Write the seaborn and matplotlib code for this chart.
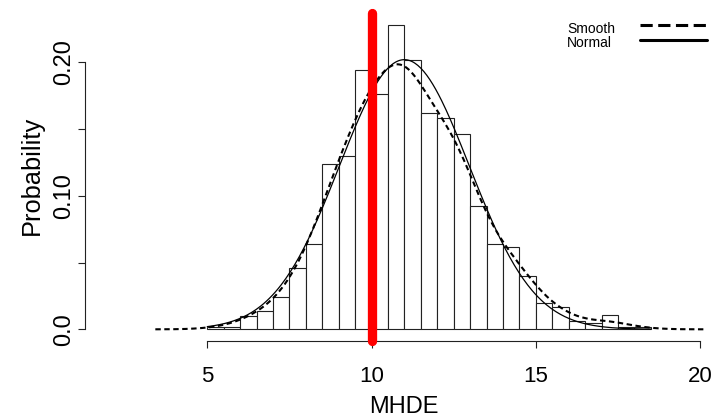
import numpy as np
import pandas as pd
import matplotlib
matplotlib.use("Agg")
import matplotlib.pyplot as plt
from matplotlib.lines import Line2D
import seaborn as sns

# ---- data ----
bin_start = 5.0
bin_width = 0.5
bar_heights = [0.002, 0.002, 0.010, 0.014, 0.024, 0.046, 0.064, 0.124, 0.130,
               0.194, 0.176, 0.228, 0.202, 0.162, 0.158, 0.146, 0.092, 0.064,
               0.062, 0.040, 0.020, 0.0165, 0.006, 0.0045, 0.0105, 0.002, 0.0015]
normal_mean = 11.0
normal_sd = 1.975
kde_bandwidth = 0.58
kde_range = (3.42, 20.1)
marker_value = 10.0
x_ticks = [5, 10, 15, 20]
x_tick_labels = ["5", "10", "15", "20"]
y_ticks = [0.0, 0.05, 0.10, 0.15, 0.20]
y_tick_labels = ["0.0", "", "0.10", "", "0.20"]
x_label = "MHDE"
y_label = "Probability"
legend_labels = ["Smooth", "Normal"]

# ---- derived tables ----
n_bins = len(bar_heights)
bin_edges = [float(bin_start + bin_width * i) for i in range(n_bins + 1)]
bin_centers = np.array(bin_edges[:-1]) + bin_width / 2
hist_df = pd.DataFrame({"x": bin_centers, "h": bar_heights})

w = np.asarray(bar_heights) / np.sum(bar_heights)
wmean = np.sum(w * bin_centers)
wstd = np.sqrt(np.sum(w * (bin_centers - wmean) ** 2))

grid = np.linspace(bin_edges[0], bin_edges[-1], 300)
normal_df = pd.DataFrame({
    "x": grid,
    "y": np.exp(-0.5 * ((grid - normal_mean) / normal_sd) ** 2) / (normal_sd * np.sqrt(2 * np.pi)),
})

# ---- style ----
sns.set_style("white")
plt.rcParams["font.family"] = ["Liberation Sans", "DejaVu Sans"]
for k in ["text.color", "axes.labelcolor", "xtick.color", "ytick.color"]:
    plt.rcParams[k] = "black"

fig = plt.figure(figsize=(7.23, 4.17), dpi=100)
ax = fig.add_axes([0.1176, 0.1811, 0.8834, 0.7882])

sns.histplot(data=hist_df, x="x", weights="h", bins=bin_edges, stat="count",
             color="white", edgecolor="#222222", linewidth=0.8, alpha=1.0, ax=ax)

sns.kdeplot(data=hist_df, x="x", weights="h", bw_method=kde_bandwidth / wstd, cut=4,
            clip=kde_range, color="black", linewidth=1.5, linestyle=(0, (2.6, 1.7)), ax=ax)

sns.lineplot(data=normal_df, x="x", y="y", color="black", linewidth=0.9, ax=ax)

ax.axvline(marker_value, color="#ff0000", linewidth=6.7, solid_capstyle="round",
           clip_on=False, zorder=5)

ax.set_xlim(1.28, 20.72)
ax.set_ylim(-0.00912, 0.2371)

for s in ["top", "right"]:
    ax.spines[s].set_visible(False)
ax.spines["left"].set_bounds(y_ticks[0], y_ticks[-1])
ax.spines["bottom"].set_bounds(x_ticks[0], x_ticks[-1])
for s in ["left", "bottom"]:
    ax.spines[s].set_linewidth(0.8)
    ax.spines[s].set_color("#222222")

ax.set_xticks(x_ticks)
ax.set_xticklabels(x_tick_labels)
ax.set_yticks(y_ticks)
ax.set_yticklabels(y_tick_labels, rotation=90, va="center")
ax.tick_params(axis="both", direction="out", length=5, width=0.8, color="#222222",
               left=True, bottom=True)
ax.tick_params(axis="x", labelsize=16, pad=12.5)
ax.tick_params(axis="y", labelsize=17, pad=2.2)

ax.set_xlabel(x_label, fontsize=17)
ax.set_ylabel(y_label, fontsize=18.3)
ax.xaxis.set_label_coords(0.5, -0.166)
ax.yaxis.set_label_coords(-0.0645, 0.505)

# legend (no box): labels left, line samples right
fig.text(567 / 723, 1 - 33.3 / 417, legend_labels[0], fontsize=10, ha="left", va="baseline")
fig.text(567 / 723, 1 - 47.3 / 417, legend_labels[1], fontsize=10, ha="left", va="baseline")
fig.add_artist(Line2D([640 / 723, 707 / 723], [1 - 25 / 417, 1 - 25 / 417],
                      color="black", linewidth=2.2, linestyle=(0, (4, 1.8)),
                      transform=fig.transFigure))
fig.add_artist(Line2D([640 / 723, 707 / 723], [1 - 40 / 417, 1 - 40 / 417],
                      color="black", linewidth=2.2, transform=fig.transFigure))

fig.savefig("out.png", dpi=100)
